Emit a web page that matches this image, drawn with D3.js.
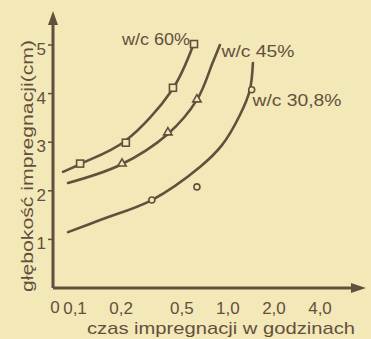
<!DOCTYPE html>
<html><head><meta charset="utf-8">
<script src="https://cdn.jsdelivr.net/npm/d3@7"></script>
<style>body{margin:0;background:#f3e8b8;}svg{display:block;}</style>
</head><body>
<script>
// Data (time in hours, depth in cm)
const xTicks = [0.1, 0.2, 0.5, 1.0, 2.0, 4.0];
const xTickLabels = ["0,1", "0,2", "0,5", "1,0", "2,0", "4,0"];
const yTicks = [1, 2, 3, 4, 5];

const curve60t = [0.0835, 0.108, 0.212, 0.43, 0.59];
const curve60v = [2.39, 2.55, 3.02, 4.07, 4.98];
const pts60t = [0.108, 0.215, 0.437, 0.60];
const pts60v = [2.56, 2.99, 4.12, 5.02];

const curve45t = [0.090, 0.197, 0.405, 0.627, 0.798, 0.886];
const curve45v = [2.16, 2.53, 3.17, 3.87, 4.65, 5.0];
const pts45t = [0.203, 0.405, 0.627];
const pts45v = [2.56, 3.2, 3.88];

const curve31t = [0.090, 0.146, 0.318, 0.656, 0.914, 1.198, 1.39, 1.457];
const curve31v = [1.15, 1.40, 1.81, 2.49, 2.94, 3.56, 4.07, 4.63];
const pts31t = [0.318, 0.627, 1.43];
const pts31v = [1.81, 2.08, 4.08];

const seriesLabels = ["w/c 60%", "w/c 45%", "w/c 30,8%"];
const yTitle = "głębokość impregnacji(cm)";
const xTitle = "czas impregnacji w godzinach";

const W = 371, H = 339;
const ink = "#63503c";
const bg = "#f3e8b8";
const font = "'Liberation Sans', Arial, sans-serif";

const svg = d3.select("body").append("svg").attr("width", W).attr("height", H);
svg.append("rect").attr("width", W).attr("height", H).attr("fill", bg);

const x = d3.scaleLog().domain([0.1, 4]).range([75, 320]);
const y = d3.scaleLinear().domain([0, 5]).range([288, 45]);
const x0 = 53, y0 = 288;

// axes
svg.append("line").attr("x1", x0).attr("y1", y0).attr("x2", 356).attr("y2", y0)
  .attr("stroke", ink).attr("stroke-width", 3);
svg.append("line").attr("x1", x0).attr("y1", y0).attr("x2", x0).attr("y2", 20)
  .attr("stroke", ink).attr("stroke-width", 3);
svg.append("path").attr("d", `M${x0},11 L${x0-5},25 L${x0+5},25 Z`).attr("fill", ink);
svg.append("path").attr("d", `M366,${y0} L351,${y0-5} L351,${y0+5} Z`).attr("fill", ink);

// y ticks
const yAxis = svg.append("g");
yTicks.forEach(v => {
  yAxis.append("line").attr("x1", x0 - 5).attr("x2", x0).attr("y1", y(v)).attr("y2", y(v))
    .attr("stroke", ink).attr("stroke-width", 1.5);
  yAxis.append("text").attr("x", 46).attr("y", y(v) + 10).attr("text-anchor", "end")
    .attr("font-family", font).attr("font-size", 17).attr("fill", ink).text(v);
});
// x ticks labels
svg.append("text").attr("x", 55).attr("y", 313).attr("text-anchor", "middle")
  .attr("font-family", font).attr("font-size", 17).attr("fill", ink).text("0");
xTicks.forEach((t, i) => {
  svg.append("text").attr("x", x(t)).attr("y", 314).attr("text-anchor", "middle")
    .attr("font-family", font).attr("font-size", 17).attr("fill", ink).text(xTickLabels[i]);
});

// titles
svg.append("text").attr("transform", "translate(33,166) rotate(-90)").attr("text-anchor", "middle")
  .attr("font-family", font).attr("font-size", 17).attr("fill", ink)
  .attr("textLength", 252).attr("lengthAdjust", "spacingAndGlyphs").text(yTitle);
svg.append("text").attr("x", 221).attr("y", 334).attr("text-anchor", "middle")
  .attr("font-family", font).attr("font-size", 17).attr("fill", ink)
  .attr("textLength", 268).attr("lengthAdjust", "spacingAndGlyphs").text(xTitle);

// curves
const line = d3.line().x(d => x(d[0])).y(d => y(d[1])).curve(d3.curveCatmullRom.alpha(0.5));
[[curve60t, curve60v], [curve45t, curve45v], [curve31t, curve31v]].forEach(([ts, vs]) => {
  svg.append("path").datum(ts.map((t, i) => [t, vs[i]])).attr("d", line)
    .attr("fill", "none").attr("stroke", ink).attr("stroke-width", 2.6).attr("stroke-linecap", "round");
});

// markers
pts60t.forEach((t, i) => {
  svg.append("rect").attr("x", x(t) - 3.5).attr("y", y(pts60v[i]) - 3.5).attr("width", 7).attr("height", 7)
    .attr("fill", bg).attr("stroke", ink).attr("stroke-width", 1.6);
});
const tri = d3.symbol().type(d3.symbolTriangle).size(30);
pts45t.forEach((t, i) => {
  svg.append("path").attr("d", tri).attr("transform", `translate(${x(t)},${y(pts45v[i])})`)
    .attr("fill", bg).attr("stroke", ink).attr("stroke-width", 1.6);
});
pts31t.forEach((t, i) => {
  svg.append("circle").attr("cx", x(t)).attr("cy", y(pts31v[i])).attr("r", 3)
    .attr("fill", bg).attr("stroke", ink).attr("stroke-width", 1.6);
});

// series labels
const lab = [[156, 45, 68], [258, 57, 73], [297, 106, 89]];
seriesLabels.forEach((s, i) => {
  svg.append("text").attr("x", lab[i][0]).attr("y", lab[i][1]).attr("text-anchor", "middle")
    .attr("font-family", font).attr("font-size", 16).attr("fill", ink)
    .attr("textLength", lab[i][2]).attr("lengthAdjust", "spacingAndGlyphs").text(s);
});
</script>
</body></html>
